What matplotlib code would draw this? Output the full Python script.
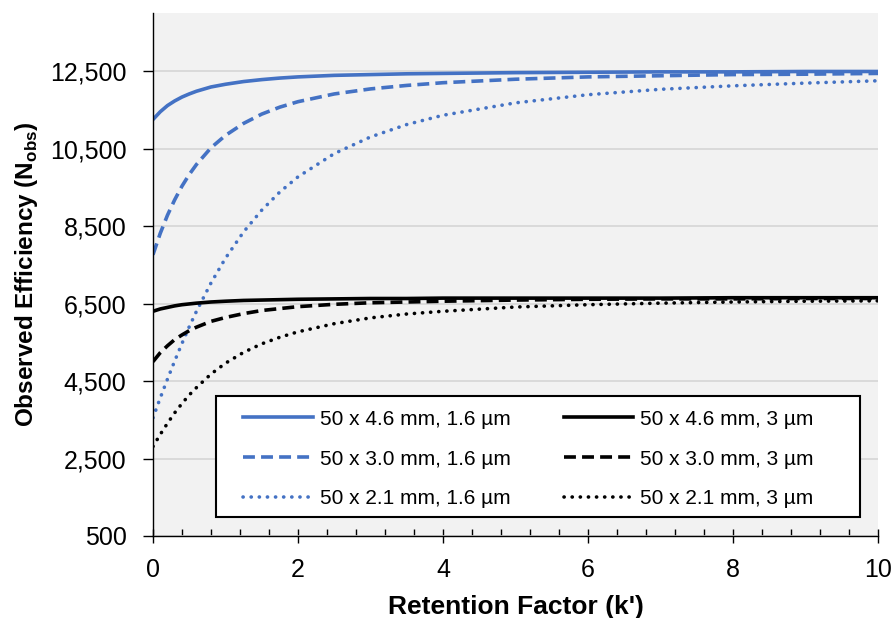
import matplotlib
matplotlib.use("Agg")
import matplotlib.pyplot as plt
from matplotlib.patches import Rectangle
from matplotlib.ticker import MultipleLocator, FuncFormatter

plt.rcParams['font.family'] = ['Liberation Sans', 'DejaVu Sans']
plt.rcParams['mathtext.fontset'] = 'custom'
plt.rcParams['mathtext.rm'] = 'Liberation Sans'
plt.rcParams['mathtext.bf'] = 'Liberation Sans:bold'

k = [0, 0.1, 0.2, 0.3, 0.4, 0.5, 0.6, 0.8, 1.0, 1.25, 1.5, 1.75, 2,
     2.5, 3, 3.5, 4, 5, 6, 7, 8, 9, 10]

# 1.6 um particles
n_46_16 = [11250, 11450, 11610, 11730, 11830, 11910, 11980, 12090, 12160, 12230, 12280, 12320,
           12350, 12390, 12410, 12430, 12440, 12460, 12470, 12480, 12480, 12490, 12490]
n_30_16 = [7760, 8310, 8780, 9180, 9530, 9830, 10090, 10520, 10840, 11150, 11390, 11570,
           11710, 11910, 12040, 12130, 12200, 12290, 12350, 12380, 12410, 12420, 12440]
n_21_16 = [3550, 4060, 4550, 5020, 5470, 5900, 6300, 7030, 7670, 8350, 8910, 9380,
           9770, 10370, 10800, 11120, 11360, 11680, 11890, 12030, 12120, 12190, 12250]

# 3 um particles
n_46_3 = [6300, 6360, 6400, 6440, 6470, 6490, 6510, 6540, 6560, 6580, 6590, 6600,
          6610, 6620, 6630, 6630, 6640, 6640, 6640, 6640, 6650, 6650, 6650]
n_30_3 = [5000, 5230, 5410, 5570, 5690, 5800, 5890, 6040, 6140, 6240, 6320, 6370,
          6420, 6480, 6520, 6540, 6560, 6590, 6610, 6620, 6620, 6630, 6630]
n_21_3 = [2810, 3120, 3410, 3680, 3920, 4140, 4330, 4680, 4960, 5240, 5460, 5630,
          5770, 5980, 6130, 6230, 6300, 6410, 6470, 6510, 6540, 6560, 6570]

labels_16 = ["50 x 4.6 mm, 1.6 µm", "50 x 3.0 mm, 1.6 µm", "50 x 2.1 mm, 1.6 µm"]
labels_3 = ["50 x 4.6 mm, 3 µm", "50 x 3.0 mm, 3 µm", "50 x 2.1 mm, 3 µm"]

blue = '#4472c4'
lw = 2.6
styles = [dict(linestyle='-'),
          dict(linestyle=(0, (3.3, 1.7))),
          dict(linestyle=(0, (0.05, 2.2)), dash_capstyle='round')]

fig = plt.figure(figsize=(8.93, 6.18), dpi=100)
ax = fig.add_axes([0.1713, 0.1327, 0.8119, 0.8463])
ax.set_facecolor('#f2f2f2')

handles = []
for ys, lab, st in zip([n_46_16, n_30_16, n_21_16], labels_16, styles):
    h, = ax.plot(k, ys, color=blue, lw=lw, label=lab, **st)
    handles.append(h)
for ys, lab, st in zip([n_46_3, n_30_3, n_21_3], labels_3, styles):
    h, = ax.plot(k, ys, color='black', lw=lw, label=lab, **st)
    handles.append(h)

ax.set_xlim(0, 10)
ax.set_ylim(500, 14000)
ax.set_yticks(range(500, 12501, 2000))
ax.yaxis.set_major_formatter(FuncFormatter(lambda v, p: f"{int(v):,}"))
ax.xaxis.set_major_locator(MultipleLocator(2))
ax.xaxis.set_minor_locator(MultipleLocator(0.4))
ax.grid(axis='y', color='#d6d6d6', lw=1.2)
ax.set_axisbelow(True)

for s in ['top', 'right']:
    ax.spines[s].set_visible(False)
for s in ['left', 'bottom']:
    ax.spines[s].set_color('black')
    ax.spines[s].set_linewidth(1.0)

ax.tick_params(axis='x', which='major', direction='inout', length=10, width=1, labelsize=18, pad=11)
ax.tick_params(axis='x', which='minor', direction='in', length=5, width=1)
ax.tick_params(axis='y', which='major', direction='out', length=7, width=1, labelsize=18, pad=12)

ax.set_xlabel("Retention Factor (k')", fontsize=19, fontweight='bold', labelpad=9)
ax.set_ylabel("Observed Efficiency (N$_{\\mathbf{obs}}$)", fontsize=17.5, fontweight='bold', labelpad=7)

# legend box drawn separately so its padding can match
frame = Rectangle((0.0869, 0.0363), 0.8883, 0.2314, transform=ax.transAxes,
                  facecolor='white', edgecolor='black', lw=1.5, zorder=4)
ax.add_patch(frame)
leg = ax.legend(handles=handles, ncol=2, loc='center left', bbox_to_anchor=(0.1241, 0.147),
                fontsize=15, frameon=False, handlelength=3.35, handletextpad=0.33,
                borderaxespad=0, borderpad=0, labelspacing=1.0, columnspacing=2.55)
leg.set_zorder(5)

fig.savefig('out.png', dpi=100)
